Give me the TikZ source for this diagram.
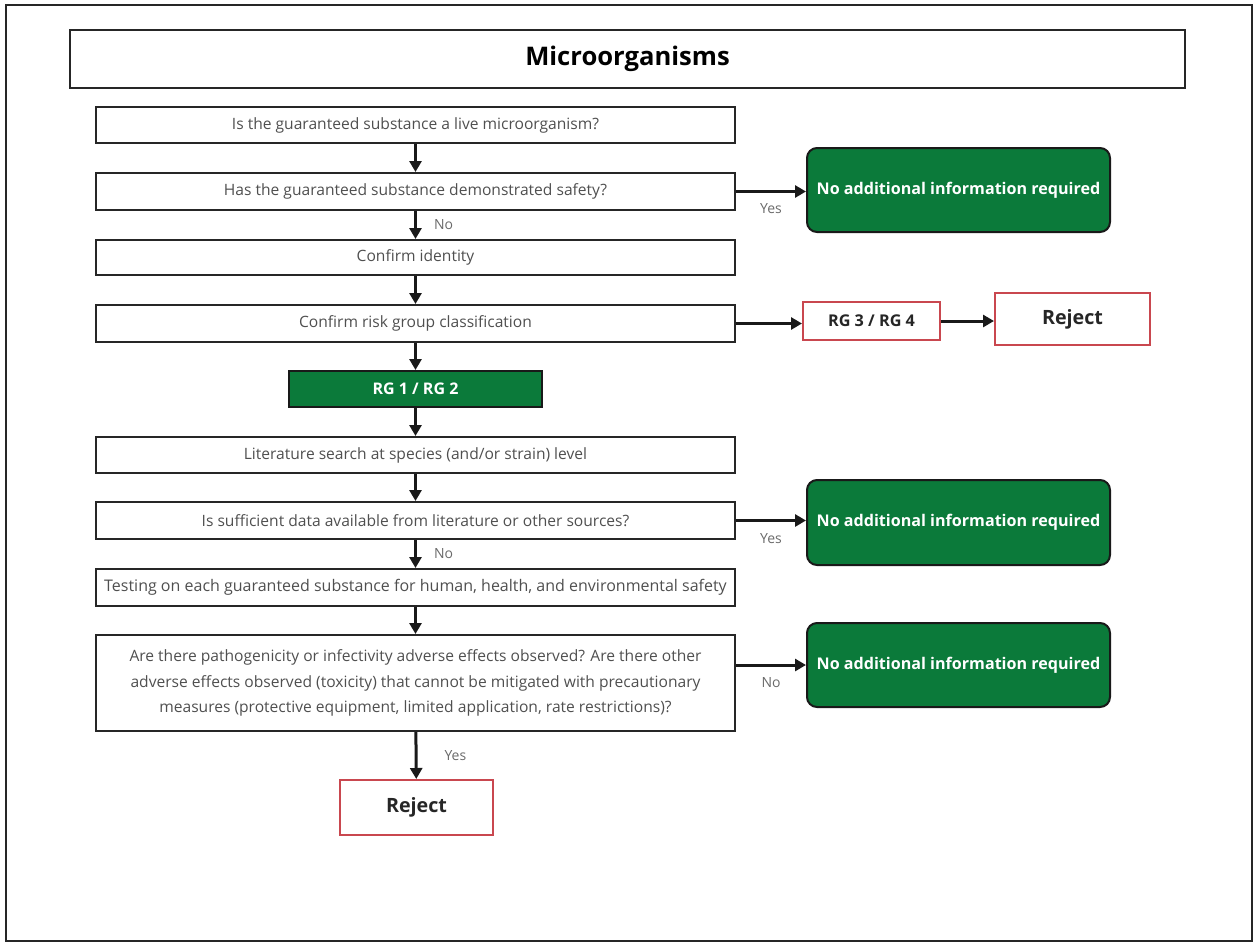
\documentclass[tikz,border=0pt]{standalone}
\usepackage{fontspec}
\setmainfont{Open Sans}
\usetikzlibrary{arrows.meta,positioning}
\definecolor{okgreen}{HTML}{0B7A3A}
\definecolor{rejred}{HTML}{C9474F}
\definecolor{txtgray}{HTML}{4F4F4F}
\definecolor{lblgray}{HTML}{6A6A6A}

\begin{document}
\begin{tikzpicture}[x=1pt,y=-1pt,>={Triangle[length=11pt,width=12pt]},
  every text node part/.style={align=center},
  qbox/.style={draw=black!85,line width=2pt,minimum width=639pt,minimum height=36pt,
    inner sep=0pt,text=txtgray,font=\fontsize{15.6}{25.5}\selectfont},
  okbox/.style={draw=black!90,fill=okgreen,rounded corners=10pt,line width=2pt,
    minimum width=303pt,minimum height=84pt,inner sep=0pt,text=white,
    font=\bfseries\fontsize{16.1}{18}\selectfont},
  rejbox/.style={draw=rejred,line width=2pt,inner sep=0pt,text=black!85,
    font=\bfseries\fontsize{19.7}{22}\selectfont},
  lbl/.style={text=lblgray,font=\fontsize{14}{16}\selectfont,inner sep=0pt},
  flow/.style={->,line width=3pt,black!90}]

\useasboundingbox (0,0) rectangle (1257,945);
\draw [line width=2pt,black!85] (6,5) rectangle (1252,941);

%%%%%%%%%%%%%%%%%%%%%%%%%%%%%%%%%%%%%%

\node [draw=black!85,line width=2pt,minimum width=1115pt,minimum height=58pt,
  inner sep=0pt,font=\bfseries\fontsize{25.6}{30}\selectfont] (title) at (627.5,59) {Microorganisms};

%%%%%%%%%%%%%%%%%%%%%%%%%%%%%%%%%%%%%%

\node [qbox] (live) at (415.5,125) {Is the guaranteed substance a live microorganism?};
\node [qbox,minimum height=37pt] (safe) at (415.5,191.5) {Has the guaranteed substance demonstrated safety?};
\node [qbox,minimum height=35pt] (ident) at (415.5,257.5) {Confirm identity};
\node [qbox,minimum height=37pt] (risk) at (415.5,323.5) {Confirm risk group classification};
\node [draw=black!90,fill=okgreen,line width=2pt,minimum width=253pt,minimum height=36pt,
  inner sep=0pt,text=white,font=\bfseries\fontsize{16}{18}\selectfont] (rglow) at (415.5,389) {RG 1 / RG 2};
\node [qbox] (lit) at (415.5,455) {Literature search at species (and/or strain) level};
\node [qbox,minimum height=37pt] (data) at (415.5,520.5) {Is sufficient data available from literature or other sources?};
\node [qbox,minimum height=37pt,font=\fontsize{16}{20}\selectfont] (test) at (415.5,587.5) {Testing on each guaranteed substance for human, health, and environmental safety};
\node [qbox,minimum height=96pt] (adv) at (415.5,683) {Are there pathogenicity or infectivity adverse effects observed? Are there other\\
  adverse effects observed (toxicity) that cannot be mitigated with precautionary\\
  measures (protective equipment, limited application, rate restrictions)?};

%%%%%%%%%%%%%%%%%%%%%%%%%%%%%%%%%%%%%%

\node [okbox] (ok1) at (958.5,190) {No additional information required};
\node [okbox,minimum height=85pt] (ok2) at (958.5,522.5) {No additional information required};
\node [okbox] (ok3) at (958.5,665) {No additional information required};

\node [rejbox,minimum width=137pt,minimum height=38pt,font=\bfseries\fontsize{16.2}{18}\selectfont] (rghigh) at (871.5,321) {RG 3 / RG 4};
\node [rejbox,minimum width=155pt,minimum height=52pt] (rej1) at (1072.5,319) {Reject};
\node [rejbox,minimum width=153pt,minimum height=55pt] (rej2) at (416.5,807.5) {Reject};

%%%%%%%%%%%%%%%%%%%%%%%%%%%%%%%%%%%%%%

\draw [flow] (live) -- (safe);
\draw [flow] (safe) -- node [lbl,right=17pt] {No} (ident);
\draw [flow] (ident) -- (risk);
\draw [flow] (risk) -- (rglow);
\draw [flow] (rglow) -- (lit);
\draw [flow] (lit) -- (data);
\draw [flow] (data) -- node [lbl,right=17pt] {No} (test);
\draw [flow] (test) -- (adv);
\draw [flow] (adv) -- node [lbl,right=27pt] {Yes} (rej2);

\draw [flow] (safe) -- node [lbl,below=11pt] {Yes} (safe -| ok1.west);
\draw [flow] (data) -- node [lbl,below=11pt] {Yes} (data -| ok2.west);
\draw [flow] (adv.east |- ok3) -- node [lbl,below=11pt] {No} (ok3);
\draw [flow] (risk) -- (risk -| rghigh.west);
\draw [flow] (rghigh) -- (rghigh -| rej1.west);

\end{tikzpicture}
\end{document}
